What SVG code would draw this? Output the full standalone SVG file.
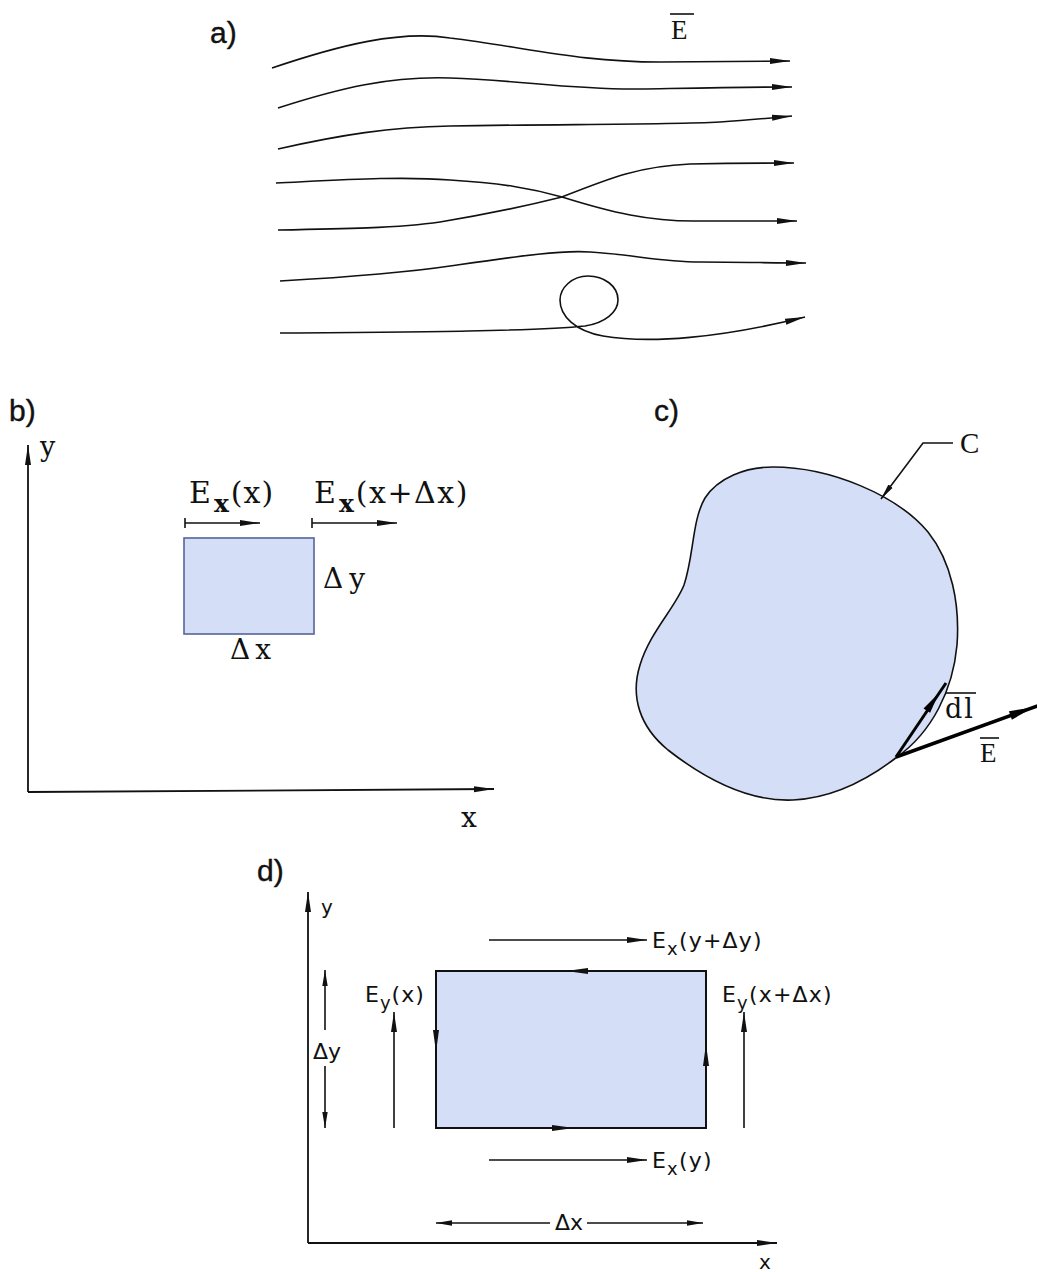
<svg xmlns="http://www.w3.org/2000/svg" width="1037" height="1272" viewBox="0 0 1037 1272">
<style>
.ln{fill:none;stroke:#111;stroke-width:1.6}
.ax{fill:none;stroke:#111;stroke-width:1.8}
.lbl{font-family:"Liberation Sans",Arial,sans-serif;font-size:30px;fill:#111;stroke:#111;stroke-width:0.4}
.ser{font-family:"DejaVu Serif","Liberation Serif",serif;fill:#111}
.tser{font-family:"Liberation Serif","Times New Roman",serif;fill:#111}
.sans{font-family:"DejaVu Sans","Liberation Sans",sans-serif;fill:#111}
</style>
<defs>
<marker id="ah" viewBox="0 0 20 8" refX="20" refY="4" markerWidth="20" markerHeight="8" markerUnits="userSpaceOnUse" orient="auto"><path d="M0,1 L20,4 L0,7 Z" fill="#111"/></marker>
<marker id="ahs" viewBox="0 0 16 7" refX="16" refY="3.5" markerWidth="16" markerHeight="7" markerUnits="userSpaceOnUse" orient="auto"><path d="M0,0.8 L16,3.5 L0,6.2 Z" fill="#111"/></marker>
</defs>

<!-- ===== a) ===== -->
<g id="panel-a">
<text class="lbl" x="210" y="43">a)</text>
<g id="a-label-E">
<line x1="670" y1="14" x2="694" y2="14" stroke="#111" stroke-width="1.6"/>
<text class="tser" x="671" y="39" font-size="27">E</text>
</g>
<g id="a-field-lines">
<path class="ln" marker-end="url(#ah)" d="M272,68 C340,45 400,30 450,38 C530,48 580,62 660,62 C700,62 740,61 790,61"/>
<path class="ln" marker-end="url(#ah)" d="M278,108 C340,88 390,76 450,78 C520,80 570,90 640,89 C700,88 750,87 792,87"/>
<path class="ln" marker-end="url(#ah)" d="M278,149 C340,135 390,127 450,126 C560,124 660,125 720,122 C750,120 770,118 792,116"/>
<path class="ln" marker-end="url(#ah)" d="M276,183 C340,180 400,176 450,180 C500,183 530,188 562,197 C610,212 650,222 700,221 C740,221 770,221 797,221"/>
<path class="ln" marker-end="url(#ah)" d="M278,230 C340,229 400,228 440,222 C500,212 530,205 562,197 C610,178 640,166 690,164 C740,163 770,163 794,163"/>
<path class="ln" marker-end="url(#ah)" d="M280,281 C350,277 410,272 450,266 C520,256 560,250 590,252 C630,254 660,262 700,262 C740,262 775,263 806,263"/>
<path class="ln" marker-end="url(#ah)" d="M280,333 C420,332 540,331 585,326 C605,323 618,312 618,300 C618,286 604,276 588,276 C572,276 560,288 560,300 C560,316 575,331 603,336 C650,344 720,338 805,317"/>
</g>
</g>

<!-- ===== b) ===== -->
<g id="panel-b">
<text class="lbl" x="9" y="421">b)</text>
<g id="b-axes">
<line class="ax" x1="28" y1="792" x2="28" y2="445" marker-end="url(#ah)"/>
<line class="ax" x1="28" y1="792" x2="494" y2="789" marker-end="url(#ah)"/>
<text class="ser" x="40" y="456" font-size="27">y</text>
<text class="ser" x="461" y="827" font-size="28">x</text>
</g>
<g id="b-element">
<rect x="184" y="538" width="130" height="96" fill="#d4dff7" stroke="#55659a" stroke-width="1.6"/>
<text class="ser" x="323" y="588" font-size="28" letter-spacing="6">Δy</text>
<text class="ser" x="230" y="659" font-size="28" letter-spacing="5">Δx</text>
</g>
<g id="b-Ex-left">
<line x1="185" y1="518" x2="185" y2="528" stroke="#111" stroke-width="1.6"/>
<line class="ln" x1="185" y1="523" x2="260" y2="523" marker-end="url(#ah)"/>
<text class="ser" x="189" y="503" font-size="30">E<tspan font-size="25" font-weight="bold" dx="3" dy="9">x</tspan><tspan dy="-9" dx="2" letter-spacing="1">(x)</tspan></text>
</g>
<g id="b-Ex-right">
<line x1="312" y1="518" x2="312" y2="528" stroke="#111" stroke-width="1.6"/>
<line class="ln" x1="312" y1="523" x2="397" y2="523" marker-end="url(#ah)"/>
<text class="ser" x="314" y="503" font-size="30">E<tspan font-size="25" font-weight="bold" dx="3" dy="9">x</tspan><tspan dy="-9" dx="2" letter-spacing="1.5">(x+Δx)</tspan></text>
</g>
</g>

<!-- ===== c) ===== -->
<g id="panel-c">
<text class="lbl" x="654" y="421">c)</text>
<g id="c-contour">
<path d="M773,467 C830,467 897,495 928,532 C952,562 960,605 957,645 C953,690 932,732 897,757 C870,778 835,798 793,800 C745,802 700,775 668,750 C640,727 630,697 640,665 C650,632 675,608 684,585 C694,555 692,520 705,498 C718,478 745,467 773,467 Z" fill="#d4dff7" stroke="#111" stroke-width="1.6"/>
</g>
<g id="c-label-C">
<polyline class="ln" points="953,443 923,443 881,499" marker-end="url(#ahs)"/>
<text class="tser" x="960" y="453" font-size="29">C</text>
</g>
<g id="c-dl">
<line x1="896" y1="757" x2="946" y2="683" stroke="#000" stroke-width="3"/>
<polygon points="939,693 930.1,712.8 923.5,708.4" fill="#000"/>
<line x1="946" y1="693" x2="976" y2="693" stroke="#111" stroke-width="1.6"/>
<text class="ser" x="945" y="718" font-size="27" letter-spacing="2">dl</text>
</g>
<g id="c-E">
<line x1="896" y1="757" x2="1040" y2="705" stroke="#000" stroke-width="3.5"/>
<polygon points="1033,707.5 1011.9,719.7 1008.9,711.2" fill="#000"/>
<line x1="980" y1="738" x2="999" y2="738" stroke="#111" stroke-width="1.6"/>
<text class="tser" x="980" y="762" font-size="27">E</text>
</g>
</g>

<!-- ===== d) ===== -->
<g id="panel-d">
<text class="lbl" x="257" y="881">d)</text>
<g id="d-axes">
<line class="ax" x1="308" y1="1243" x2="308" y2="892" marker-end="url(#ah)"/>
<line class="ax" x1="308" y1="1243" x2="777" y2="1243" marker-end="url(#ah)"/>
<text class="sans" x="321" y="914" font-size="20">y</text>
<text class="sans" x="759" y="1269" font-size="20">x</text>
</g>
<g id="d-element">
<rect x="436" y="971" width="270" height="157" fill="#d4dff7" stroke="#111" stroke-width="2"/>
<polygon points="566,971 588,968 588,974" fill="#111"/>
<polygon points="574,1128 552,1125 552,1131" fill="#111"/>
<polygon points="436,1052 433,1030 439,1030" fill="#111"/>
<polygon points="706,1044 703,1066 709,1066" fill="#111"/>
</g>
<g id="d-Ex-top">
<line class="ln" x1="489" y1="940" x2="647" y2="940" marker-end="url(#ah)"/>
<text class="sans" x="652" y="948" font-size="22" letter-spacing="1.2">E<tspan font-size="18" dy="7">x</tspan><tspan dy="-7">(y+Δy)</tspan></text>
</g>
<g id="d-Ex-bottom">
<line class="ln" x1="489" y1="1160" x2="647" y2="1160" marker-end="url(#ah)"/>
<text class="sans" x="652" y="1168" font-size="22" letter-spacing="1.2">E<tspan font-size="18" dy="7">x</tspan><tspan dy="-7">(y)</tspan></text>
</g>
<g id="d-Ey-left">
<line class="ln" x1="394" y1="1128" x2="394" y2="1012" marker-end="url(#ah)"/>
<text class="sans" x="365" y="1002" font-size="22" letter-spacing="1">E<tspan font-size="18" dy="7">y</tspan><tspan dy="-7">(x)</tspan></text>
</g>
<g id="d-Ey-right">
<line class="ln" x1="744" y1="1128" x2="744" y2="1012" marker-end="url(#ah)"/>
<text class="sans" x="722" y="1002" font-size="22" letter-spacing="1.2">E<tspan font-size="18" dy="7">y</tspan><tspan dy="-7">(x+Δx)</tspan></text>
</g>
<g id="d-dim-y">
<line class="ln" x1="325" y1="1030" x2="325" y2="970" marker-end="url(#ahs)"/>
<line class="ln" x1="325" y1="1066" x2="325" y2="1128" marker-end="url(#ahs)"/>
<text class="sans" x="313" y="1059" font-size="22">Δy</text>
</g>
<g id="d-dim-x">
<line class="ln" x1="550" y1="1223" x2="436" y2="1223" marker-end="url(#ahs)"/>
<line class="ln" x1="587" y1="1223" x2="703" y2="1223" marker-end="url(#ahs)"/>
<text class="sans" x="555" y="1230" font-size="22">Δx</text>
</g>
</g>
</svg>
